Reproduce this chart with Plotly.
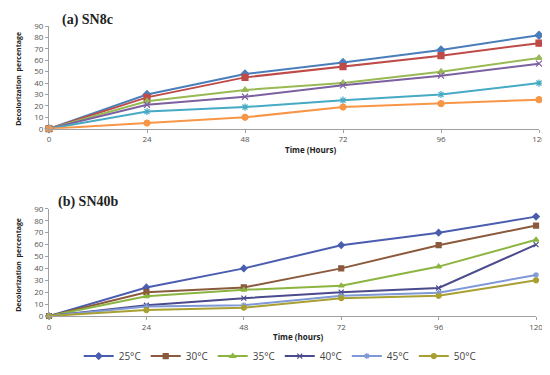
import plotly.graph_objects as go

hours = [0, 24, 48, 72, 96, 120]
temps = ["25°C", "30°C", "35°C", "40°C", "45°C", "50°C"]

sn8c = {
    "25°C": [0, 30, 48, 58, 69, 82],
    "30°C": [0, 27.5, 45, 54.5, 64, 75],
    "35°C": [0, 24, 34, 40, 50, 62],
    "40°C": [0, 21, 28, 38, 46.5, 57],
    "45°C": [0, 15, 19, 25, 30, 40],
    "50°C": [0, 5, 10, 19, 22, 25.5],
}
sn40b = {
    "25°C": [0, 24, 40, 59.5, 70, 83.5],
    "30°C": [0, 20, 24, 40, 59.5, 76],
    "35°C": [0, 16.5, 22, 25.5, 41.5, 64],
    "40°C": [0, 9, 15, 20, 23.5, 60],
    "45°C": [0, 8, 9, 17, 19.5, 34.5],
    "50°C": [0, 5, 7, 15, 17, 30],
}

symbols = ["diamond", "square", "triangle-up", "x-thin-open", "asterisk-open", "circle"]
colors_a = ["#4A7EBB", "#BE4B48", "#98B954", "#7D60A0", "#46AAC5", "#F79646"]
colors_b = ["#4A5DB0", "#8B5A3C", "#8CB440", "#4A4A8C", "#7F98D6", "#A8A032"]

fig = go.Figure()
for i, t in enumerate(temps):
    fig.add_trace(go.Scatter(
        x=hours, y=sn8c[t], mode="lines+markers", name=t, showlegend=False,
        line=dict(color=colors_a[i], width=2),
        marker=dict(symbol=symbols[i], size=6, color=colors_a[i],
                    line=dict(color=colors_a[i], width=1.2)),
        xaxis="x", yaxis="y", cliponaxis=False))
for i, t in enumerate(temps):
    fig.add_trace(go.Scatter(
        x=hours, y=sn40b[t], mode="lines+markers", name=t,
        line=dict(color=colors_b[i], width=2),
        marker=dict(symbol=symbols[i], size=5, color=colors_b[i],
                    line=dict(color=colors_b[i], width=1.2)),
        xaxis="x2", yaxis="y2", cliponaxis=False))

axis_common = dict(showgrid=False, zeroline=False, showline=True, linecolor="#A0A0A0",
                   linewidth=1, ticks="outside", ticklen=3, tickcolor="#A0A0A0",
                   ticklabeloverflow="allow",
                   tickfont=dict(family="Open Sans, sans-serif", size=8, color="#555555"))

T, B, L, R = 17, 54, 41, 13
H = 375 - T - B
W = 550 - L - R


def py(ypix):
    return (375 - B - ypix) / H


def px(xpix):
    return (xpix - L) / W


fig.update_layout(
    width=550, height=375,
    margin=dict(l=L, r=R, t=T, b=B),
    paper_bgcolor="white", plot_bgcolor="white",
    xaxis=dict(domain=[0, 1], range=[0, 120], tickvals=hours, anchor="y", **axis_common),
    yaxis=dict(domain=[py(124.7), 1], range=[0, 90], dtick=10, anchor="x", **axis_common),
    xaxis2=dict(domain=[0, px(534)], range=[0, 120], tickvals=hours, anchor="y2", **axis_common),
    yaxis2=dict(domain=[0, py(208.7)], range=[0, 90], dtick=10, anchor="x2", **axis_common),
    legend=dict(orientation="h", x=px(275), xanchor="center", y=py(363), yanchor="middle",
                font=dict(family="Open Sans, sans-serif", size=10, color="#444444"),
                itemwidth=30, tracegroupgap=0),
)

ann = [
    dict(text="<b>(a) SN8c</b>", x=px(52), y=py(11), xanchor="left", yanchor="middle",
         font=dict(family="Liberation Serif, serif", size=14, color="#222222")),
    dict(text="<b>(b) SN40b</b>", x=px(48), y=py(202), xanchor="left", yanchor="middle",
         font=dict(family="Liberation Serif, serif", size=14, color="#222222")),
    dict(text="<b>Time (Hours)</b>", x=px(306), y=py(146), xanchor="center", yanchor="middle",
         font=dict(family="Open Sans, sans-serif", size=8, color="#222222")),
    dict(text="<b>Time (hours)</b>", x=px(294), y=py(343), xanchor="center", yanchor="middle",
         font=dict(family="Open Sans, sans-serif", size=8, color="#222222")),
    dict(text="<b>Decolorization  percentage</b>", x=px(10), y=py(72), textangle=-90,
         xanchor="center", yanchor="middle",
         font=dict(family="Open Sans, sans-serif", size=7, color="#222222")),
    dict(text="<b>Decolorization  percentage</b>", x=px(10), y=py(267), textangle=-90,
         xanchor="center", yanchor="middle",
         font=dict(family="Open Sans, sans-serif", size=7, color="#222222")),
]
for a in ann:
    a.update(xref="paper", yref="paper", showarrow=False)
fig.update_layout(annotations=ann)

fig.write_html("out.html")
